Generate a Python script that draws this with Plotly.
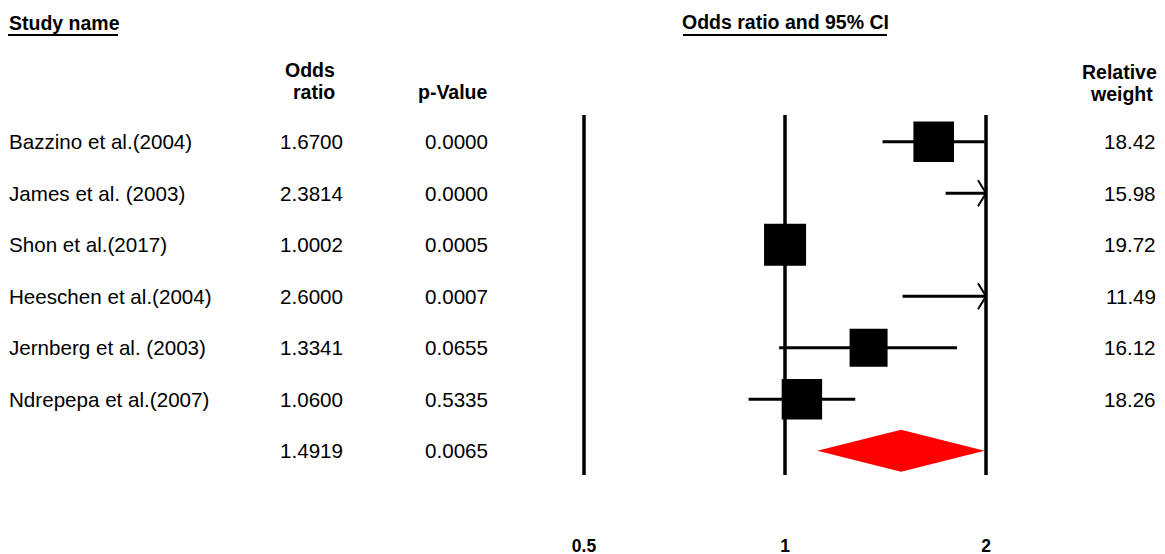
import math
import plotly.graph_objects as go

# ---------------- data ----------------
studies = ["Bazzino et al.(2004)", "James et al. (2003)", "Shon et al.(2017)",
           "Heeschen et al.(2004)", "Jernberg et al. (2003)", "Ndrepepa et al.(2007)"]
odds_ratio = [1.6700, 2.3814, 1.0002, 2.6000, 1.3341, 1.0600]
ci_lower = [1.40, 1.74, 1.0001, 1.50, 0.98, 0.882]
ci_upper = [1.99, 3.26, 1.0003, 4.51, 1.81, 1.274]
p_values = ["0.0000", "0.0000", "0.0005", "0.0007", "0.0655", "0.5335"]
weights = [18.42, 15.98, 19.72, 11.49, 16.12, 18.26]
summary_or = 1.4919
summary_lower = 1.118
summary_upper = 1.99
summary_p = "0.0065"
axis_ticks = [0.5, 1, 2]
axis_tick_labels = ["0.5", "1", "2"]

# ---------------- layout constants ----------------
W, H = 1165, 554
FONT = "Liberation Sans, Arial, sans-serif"
X_MIN, X_MAX = min(axis_ticks), max(axis_ticks)
PX_PER_DOUBLING = 201.0
X_PX_AT_1 = 785.0
ROW0_PX = 141.7
ROW_STEP = 51.5
PLOT_BOTTOM_PX = 533.0

px_per_decade = PX_PER_DOUBLING / math.log10(2)
x_range = [-(X_PX_AT_1) / px_per_decade, (W - X_PX_AT_1) / px_per_decade]
y_range = [(PLOT_BOTTOM_PX - ROW0_PX) / ROW_STEP, -ROW0_PX / ROW_STEP]


def px_x(v):
    return v / W


def px_y(v):
    return 1 - v / H


def row_units(px):
    return px / ROW_STEP


rows = list(range(len(studies)))
summary_row = len(studies)

fig = go.Figure()

# vertical reference lines
for t in axis_ticks:
    fig.add_shape(type="line", xref="x", yref="y", x0=t, x1=t,
                  y0=row_units(115 - ROW0_PX), y1=row_units(475 - ROW0_PX),
                  line=dict(color="black", width=3.5), layer="below")

# CI lines, clipped to the display range
for i in rows:
    lo = max(ci_lower[i], X_MIN)
    hi = min(ci_upper[i], X_MAX)
    fig.add_trace(go.Scatter(x=[lo, hi], y=[i, i], mode="lines",
                             line=dict(color="black", width=3),
                             showlegend=False, hoverinfo="skip"))
    if ci_upper[i] > X_MAX:
        back = X_MAX * 2 ** (-8 / PX_PER_DOUBLING)
        dy = row_units(13)
        fig.add_trace(go.Scatter(x=[back, X_MAX, back], y=[i - dy, i, i + dy],
                                 mode="lines", line=dict(color="black", width=2),
                                 showlegend=False, hoverinfo="skip"))

# squares sized by weight
max_w = max(weights)
sq_x, sq_y, sq_s = [], [], []
for i in rows:
    if X_MIN <= odds_ratio[i] <= X_MAX:
        sq_x.append(odds_ratio[i])
        sq_y.append(i)
        sq_s.append(42 * math.sqrt(weights[i] / max_w))
fig.add_trace(go.Scatter(x=sq_x, y=sq_y, mode="markers", opacity=1,
                         marker=dict(symbol="square", size=sq_s, color="black",
                                     opacity=1, line=dict(width=0)),
                         showlegend=False, hoverinfo="skip"))

# summary diamond
dh = row_units(21)
fig.add_trace(go.Scatter(
    x=[summary_lower, summary_or, min(summary_upper, X_MAX), summary_or, summary_lower],
    y=[summary_row, summary_row - dh, summary_row, summary_row + dh, summary_row],
    mode="lines", fill="toself", fillcolor="red", line=dict(width=0, color="red"),
    showlegend=False, hoverinfo="skip"))

# ---------------- text ----------------
ann = []
BODY = 20.6
BOLD = 19.5


def add_text(text, x, y, xanchor, yref="y", size=BODY, align="left"):
    ann.append(dict(text=text, x=x, y=y, xref="paper", yref=yref,
                    xanchor=xanchor, yanchor="middle", showarrow=False,
                    borderpad=0, align=align,
                    font=dict(family=FONT, size=size, color="black")))


for i in rows:
    add_text(studies[i], px_x(8), i, "left")
    add_text(f"{odds_ratio[i]:.4f}", px_x(343.5), i, "right")
    add_text(p_values[i], px_x(489.5), i, "right")
    add_text(f"{weights[i]:.2f}", px_x(1157), i, "right")
add_text(f"{summary_or:.4f}", px_x(343.5), summary_row, "right")
add_text(summary_p, px_x(489.5), summary_row, "right")

# headers
add_text("<b>Study name</b>", px_x(8), px_y(23), "left", yref="paper", size=BOLD)
add_text("<b>Odds ratio and 95% CI</b>", px_x(785), px_y(22), "center", yref="paper", size=BOLD)
add_text("<b>Odds</b>", px_x(336), px_y(70), "right", yref="paper", size=BOLD)
add_text("<b>ratio</b>", px_x(336), px_y(92), "right", yref="paper", size=BOLD)
add_text("<b>p-Value</b>", px_x(489.5), px_y(92), "right", yref="paper", size=BOLD)
add_text("<b>Relative</b>", px_x(1119), px_y(72), "center", yref="paper", size=BOLD)
add_text("<b>weight</b>", px_x(1121), px_y(94), "center", yref="paper", size=BOLD)

# header underlines
for x0, x1 in [(8, 118), (683, 887)]:
    fig.add_shape(type="line", xref="paper", yref="paper",
                  x0=px_x(x0), x1=px_x(x1), y0=px_y(35), y1=px_y(35),
                  line=dict(color="black", width=2))

fig.update_layout(
    width=W, height=H,
    margin=dict(l=0, r=0, t=0, b=0, autoexpand=False),
    paper_bgcolor="white", plot_bgcolor="white",
    font=dict(family=FONT, color="black"),
    annotations=ann,
    showlegend=False,
    xaxis=dict(type="log", range=x_range, tickvals=axis_ticks,
               ticktext=[f"<b>{t}</b>" for t in axis_tick_labels],
               tickfont=dict(family=FONT, size=17.5, color="black"),
               showgrid=False, zeroline=False, showline=False, ticks="",
               automargin=False, fixedrange=True),
    yaxis=dict(range=y_range, domain=[1 - PLOT_BOTTOM_PX / H, 1],
               showgrid=False, zeroline=False, showline=False,
               showticklabels=False, ticks="", automargin=False, fixedrange=True),
)

fig.write_html("out.html", config={"displayModeBar": False},
               post_script="document.body.style.margin='0px';document.body.style.overflow='hidden';")
